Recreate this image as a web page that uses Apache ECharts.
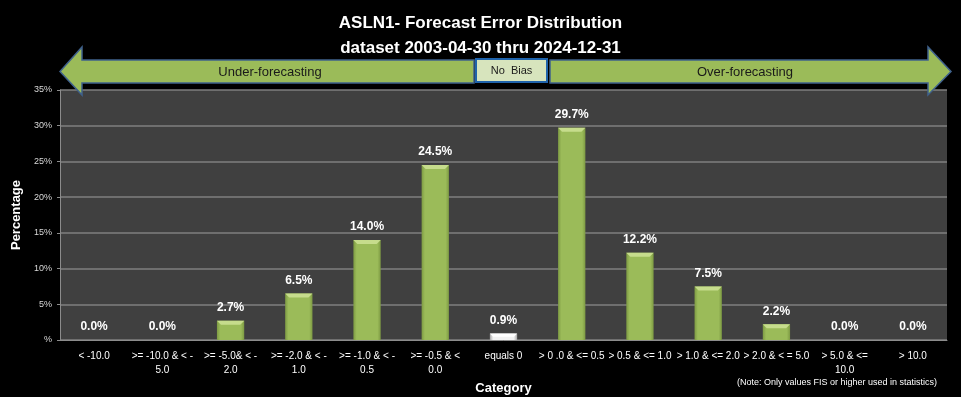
<!DOCTYPE html>
<html>
<head>
<meta charset="utf-8">
<script src="https://cdn.jsdelivr.net/npm/echarts@6/dist/echarts.min.js"></script>
<style>
  html, body { margin: 0; padding: 0; background: #000; }
  #chart { width: 961px; height: 397px; }
</style>
</head>
<body>
<div id="chart"></div>
<script>
// categories along the x axis
const categories = [
  '< -10.0', '>= -10.0 & < -\n5.0', '>= -5.0& < -\n2.0', '>= -2.0 & < -\n1.0',
  '>= -1.0 & < -\n0.5', '>= -0.5 & <\n0.0', 'equals 0', '> 0 .0 & <= 0.5',
  '> 0.5 & <= 1.0', '> 1.0 & <= 2.0', '> 2.0 & < = 5.0', '> 5.0 & <=\n10.0', '> 10.0'
];
// percentage per category
const percentages = [0.0, 0.0, 2.7, 6.5, 14.0, 24.5, 0.9, 29.7, 12.2, 7.5, 2.2, 0.0, 0.0];
// index of the "no bias" bar (drawn white)
const noBiasIndex = 6;
const yTicks = [0, 5, 10, 15, 20, 25, 30, 35];

const font = "'Liberation Sans', Arial, sans-serif";
const chart = echarts.init(document.getElementById('chart'));

function renderBar(params, api) {
  const idx = api.value(0);
  const val = api.value(1);
  const top = api.coord([idx, val]);
  const base = api.coord([idx, 0]);
  const w = api.size([1, 0])[0] * 0.4;
  const x0 = top[0] - w / 2, x1 = top[0] + w / 2;
  const y0 = top[1], y1 = base[1];
  const h = y1 - y0;
  const bev = Math.min(4, h / 2);
  const white = idx === noBiasIndex;
  const mid = white ? '#f2f2f2' : '#9bbb59';
  const light = white ? '#ffffff' : '#c6dc8c';
  const dark = white ? '#a6a6a6' : '#7d9a43';
  const children = [];
  if (h > 0) {
    children.push({
      type: 'rect',
      shape: { x: x0, y: y0, width: w, height: h },
      style: {
        fill: new echarts.graphic.LinearGradient(0, 0, 1, 0, [
          { offset: 0, color: dark },
          { offset: 0.12, color: mid },
          { offset: 0.88, color: mid },
          { offset: 1, color: dark }
        ])
      }
    });
    children.push({
      type: 'polygon',
      shape: { points: [[x0, y0], [x1, y0], [x1 - bev, y0 + bev], [x0 + bev, y0 + bev]] },
      style: { fill: light }
    });
  }
  children.push({
    type: 'text',
    style: {
      text: percentages[idx].toFixed(1) + '%',
      x: top[0], y: y0 - 13,
      align: 'center', verticalAlign: 'middle',
      fill: '#ffffff', font: 'bold 12px ' + font
    }
  });
  return { type: 'group', children: children };
}

const arrowStyle = { fill: '#9bbb59', stroke: '#3f618c', lineWidth: 1.5 };

const option = {
  backgroundColor: '#000000',
  animation: false,
  title: {
    text: 'ASLN1- Forecast Error Distribution\ndataset 2003-04-30 thru 2024-12-31',
    left: 'center',
    top: 6,
    textStyle: { color: '#ffffff', fontSize: 17, fontWeight: 'bold', lineHeight: 25, fontFamily: font }
  },
  grid: {
    left: 60, right: 14, top: 90, bottom: 57,
    outerBoundsMode: 'none',
    containLabel: false,
    show: true, backgroundColor: '#404040', borderWidth: 0
  },
  xAxis: {
    type: 'category',
    data: categories,
    name: 'Category',
    nameLocation: 'middle',
    nameGap: 41,
    nameTextStyle: { color: '#ffffff', fontSize: 13, fontWeight: 'bold', fontFamily: font },
    axisLine: { lineStyle: { color: '#8c8c8c', width: 1 } },
    axisTick: { length: 4, lineStyle: { color: '#8c8c8c' } },
    axisLabel: {
      interval: 0, color: '#ffffff', fontSize: 10, lineHeight: 14,
      margin: 9, fontFamily: font
    }
  },
  yAxis: {
    type: 'value',
    min: yTicks[0],
    max: yTicks[yTicks.length - 1],
    interval: 5,
    name: 'Percentage',
    nameLocation: 'middle',
    nameGap: 32,
    nameTextStyle: { color: '#ffffff', fontSize: 13, fontWeight: 'bold', fontFamily: font },
    axisLine: { show: true, lineStyle: { color: '#8c8c8c' } },
    axisTick: { show: true, length: 3, lineStyle: { color: '#8c8c8c' } },
    axisLabel: {
      color: '#d9d9d9', fontSize: 9, margin: 8, fontFamily: font,
      formatter: v => (v === 0 ? '%' : v + '%')
    },
    splitLine: { lineStyle: { color: '#7f7f7f', width: 1.5 } }
  },
  series: [{
    type: 'custom',
    renderItem: renderBar,
    encode: { x: 0, y: 1 },
    data: percentages.map((v, i) => [i, v]),
    z: 3
  }],
  graphic: [
    {
      type: 'polygon', z: 10,
      shape: { points: [[60, 71.5], [82, 47], [82, 60], [474, 60], [474, 83], [82, 83], [82, 95]] },
      style: arrowStyle
    },
    {
      type: 'polygon', z: 10,
      shape: { points: [[550, 60], [928, 60], [928, 47], [951, 71.5], [928, 95], [928, 83], [550, 83]] },
      style: arrowStyle
    },
    {
      type: 'rect', z: 10,
      shape: { x: 476, y: 59, width: 71, height: 23 },
      style: { fill: '#d7e4bd', stroke: '#1f63ab', lineWidth: 2 }
    },
    {
      type: 'text', z: 11,
      style: { text: 'Under-forecasting', x: 270, y: 72, align: 'center', verticalAlign: 'middle', fill: '#1a1a1a', font: '13px ' + font }
    },
    {
      type: 'text', z: 11,
      style: { text: 'Over-forecasting', x: 745, y: 72, align: 'center', verticalAlign: 'middle', fill: '#1a1a1a', font: '13px ' + font }
    },
    {
      type: 'text', z: 11,
      style: { text: 'No  Bias', x: 511.5, y: 71, align: 'center', verticalAlign: 'middle', fill: '#1a1a1a', font: '11px ' + font }
    },
    {
      type: 'text', z: 11,
      style: { text: '(Note: Only values FIS or higher used in statistics)', x: 937, y: 383, align: 'right', verticalAlign: 'middle', fill: '#ffffff', font: '9px ' + font }
    }
  ]
};

chart.setOption(option);
</script>
</body>
</html>
